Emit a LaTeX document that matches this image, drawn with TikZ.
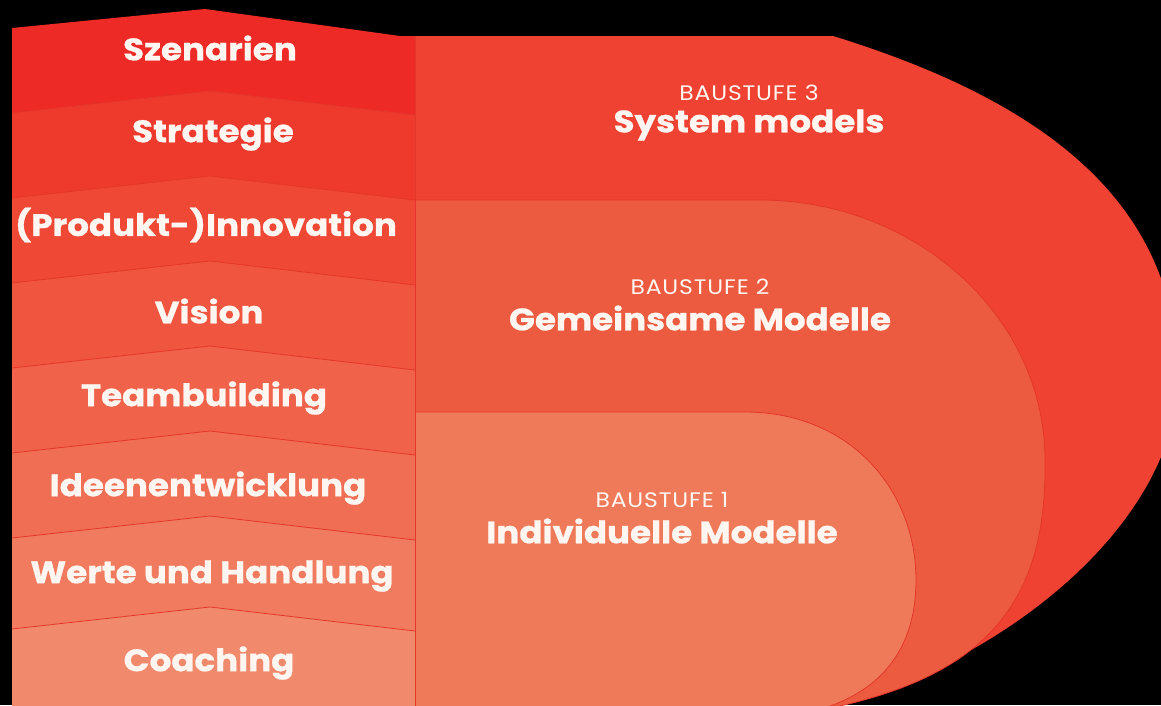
\documentclass[tikz,border=0pt]{standalone}
\usepackage{fontspec}
\newfontfamily\labfont{Poppins}[FakeStretch=1.1, BoldFeatures={FakeBold=0.8}]
\newfontfamily\stagefont{Poppins}[FakeStretch=1.12, LetterSpace=4]
\definecolor{b1}{HTML}{EE2A26}
\definecolor{b2}{HTML}{EE3A2D}
\definecolor{b3}{HTML}{EF4835}
\definecolor{b4}{HTML}{F0563F}
\definecolor{b5}{HTML}{F06249}
\definecolor{b6}{HTML}{F06E53}
\definecolor{b7}{HTML}{F07B5E}
\definecolor{b8}{HTML}{F18A6C}
\definecolor{c3}{HTML}{EF4232}
\definecolor{c2}{HTML}{EC5B40}
\definecolor{c1}{HTML}{EF7A59}
\definecolor{sepred}{HTML}{E4362A}
\definecolor{txt}{HTML}{FFF6F2}
\begin{document}
\begin{tikzpicture}[x=1pt,y=-1pt,
  lab/.style={text=txt,font=\labfont\bfseries\fontsize{31}{32}\selectfont,inner sep=0pt,anchor=center},
  stage/.style={text=txt,font=\stagefont\fontsize{21}{23}\selectfont,inner sep=0pt,anchor=center},
  sepline/.style={draw=sepred,line width=0.8pt}]
\fill[black] (0,0) rectangle (1161,705);
\useasboundingbox (0,0) rectangle (1161,705);
\begin{scope}
\clip (0,0) rectangle (1161,705);
% right: nested stages
\fill[c3] (415,36) -- (833,36) .. controls (1040,100) and (1178,200) .. (1178,380)
  .. controls (1175,530) and (990,670) .. (830,705) -- (830,720) -- (415,720) -- cycle;
\filldraw[fill=c2,sepline] (415,200) -- (760,200) .. controls (915,200) and (1045,316) .. (1045,460)
  .. controls (1047,600) and (990,680) .. (810,712) -- (415,712) -- cycle;
\filldraw[fill=c1,sepline] (415,412) -- (745,412) .. controls (850,412) and (916,490) .. (916,580)
  .. controls (916,650) and (880,695) .. (810,712) -- (415,712) -- cycle;
% left: chevron bands
\fill[b1] (12,28) -- (205,9) -- (400,36) -- (415,36) -- (415,712) -- (12,712) -- cycle;
\foreach \t/\c in {113/b2,198/b3,283/b4,368/b5,453/b6,538/b7,629/b8}{
  \fill[\c] (12,\t) -- (210,\t-22) -- (415,\t+2) -- (415,712) -- (12,712) -- cycle;
  \draw[sepline] (12,\t) -- (210,\t-22) -- (415,\t+2);
}
\draw[sepline] (415,36) -- (415,712);
\end{scope}
% left labels
\node[lab] (l1) at (210,48) {Szenarien};
\node[lab] (l2) at (213,134) {Strategie};
\node[lab] (l3) at (206,225) {(Produkt-)Innovation};
\node[lab] (l4) at (209,311) {Vision};
\node[lab] (l5) at (204,398) {Teambuilding};
\node[lab] (l6) at (208,488) {Ideenentwicklung};
\node[lab] (l7) at (212,576) {Werte und Handlung};
\node[lab] (l8) at (209,663) {Coaching};
% right labels
\node[stage] (s3) at (749,93) {BAUSTUFE 3};
\node[lab] (t3) at (749,125) {System models};
\node[stage] (s2) at (700,287) {BAUSTUFE 2};
\node[lab] (t2) at (700,318) {Gemeinsame Modelle};
\node[stage] (s1) at (662,500) {BAUSTUFE 1};
\node[lab] (t1) at (662,531) {Individuelle Modelle};
\end{tikzpicture}
\end{document}
